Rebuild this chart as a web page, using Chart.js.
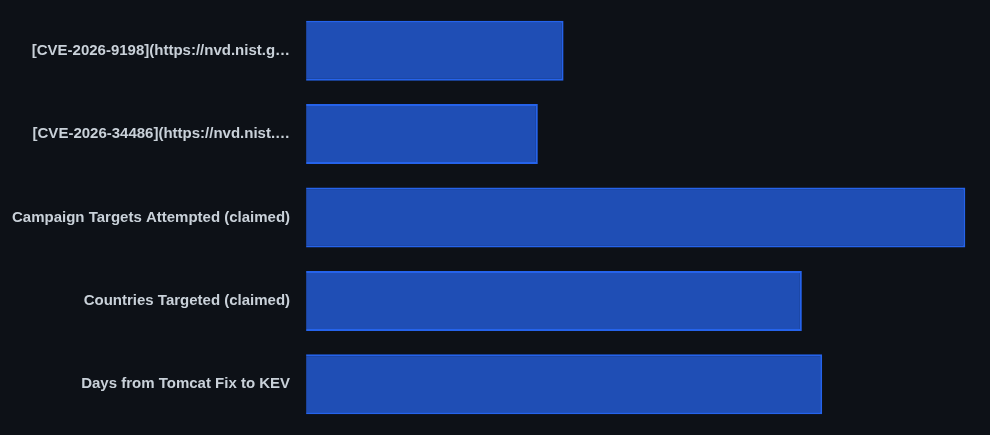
<!DOCTYPE html>
<html lang="en">
<head>
<meta charset="UTF-8">
<title>Campaign figures</title>
<script src="https://cdn.jsdelivr.net/npm/chart.js@4/dist/chart.umd.min.js"></script>
<style>
  html, body { margin: 0; padding: 0; background: #0d1117; }
  .wrap { width: 990px; height: 435px; position: relative; }
</style>
</head>
<body>
<div class="wrap"><canvas id="chart"></canvas></div>
<script>
'use strict';

// Categorías y valores (escala logarítmica)
const labels = [
  '[CVE-2026-9198](https://nvd.nist.gov/vuln/detail/CVE-2026-9198)',
  '[CVE-2026-34486](https://nvd.nist.gov/vuln/detail/CVE-2026-34486)',
  'Campaign Targets Attempted (claimed)',
  'Countries Targeted (claimed)',
  'Days from Tomcat Fix to KEV'
];
const values = [9.8, 7.8, 345, 81, 97];

// Recorta etiquetas largas
const MAX_LABEL = 36;
const recortar = s => s.length > MAX_LABEL ? s.slice(0, 34) + '…' : s;

new Chart(document.getElementById('chart'), {
  type: 'bar',
  data: {
    labels: labels,
    datasets: [{
      data: values,
      backgroundColor: 'rgba(37, 99, 235, 0.75)',
      borderColor: '#2563eb',
      borderWidth: 2
    }]
  },
  options: {
    indexAxis: 'y',
    responsive: true,
    maintainAspectRatio: false,
    animation: false,
    layout: { padding: { top: 0, bottom: 0, left: 12, right: 8 } },
    plugins: {
      legend: { display: false },
      tooltip: { enabled: false }
    },
    scales: {
      x: {
        type: 'logarithmic',
        display: false
      },
      y: {
        grid: { display: false, tickLength: 16 },
        border: { display: false },
        ticks: {
          color: '#c9d1d9',
          padding: 0,
          font: { family: '"Liberation Sans", Arial, sans-serif', size: 15, weight: 'bold' },
          callback: function (v) { return recortar(this.getLabelForValue(v)); }
        }
      }
    }
  }
});
</script>
</body>
</html>
